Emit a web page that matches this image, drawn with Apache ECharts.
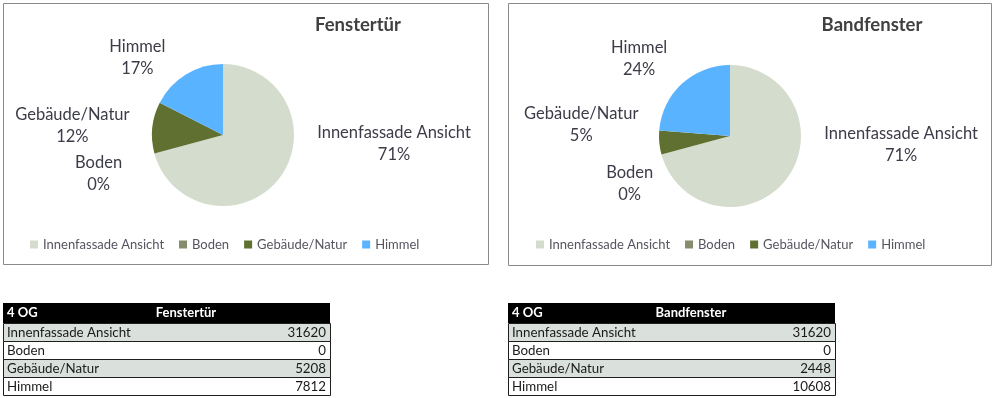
<!DOCTYPE html>
<html>
<head>
<meta charset="utf-8">
<script src="https://cdn.jsdelivr.net/npm/echarts@6/dist/echarts.min.js"></script>
<style>
  html, body { margin: 0; padding: 0; background: #fff; }
  #chart { width: 995px; height: 398px; }
</style>
</head>
<body>
<div id="chart"></div>
<script>
const CATEGORIES = ['Innenfassade Ansicht', 'Boden', 'Gebäude/Natur', 'Himmel'];
const FENSTERTUER_VALUES = [31620, 0, 5208, 7812];
const BANDFENSTER_VALUES = [31620, 0, 2448, 10608];
const TITLES = ['Fenstertür', 'Bandfenster'];
const TABLE_LABEL = '4 OG';

const COLORS = ['#d4dccd', '#858d6d', '#5f7030', '#5ab3fe'];
const FONT = 'Lato, "Open Sans", sans-serif';
const LABEL_COLOR = '#3c3c48';
const LEGEND_COLOR = '#555560';

// nudges so the labels sit where Excel's best-fit put them
const LABEL_SHIFT = [
  [[12, -47], [-3, 15], [7, 0], [0, 0]],
  [[12, -47], [21, 24], [9, -20], [9, -10]],
];

const TABLE_TOP = 303;
const HEADER_H = 20;
const ROW_H = 18;
const TABLE_W = 327;

const buildTable = (x, title, values) => {
  const els = [
    { type: 'rect', shape: { x, y: TABLE_TOP, width: TABLE_W, height: HEADER_H }, style: { fill: '#000' } },
    {
      type: 'text', x: x + 4, y: TABLE_TOP + HEADER_H / 2,
      style: { text: TABLE_LABEL, fill: '#fff', font: 'bold 13px ' + FONT, verticalAlign: 'middle' },
    },
    {
      type: 'text', x: x + 183, y: TABLE_TOP + HEADER_H / 2,
      style: { text: title, fill: '#fff', font: 'bold 13px ' + FONT, align: 'center', verticalAlign: 'middle' },
    },
  ];
  CATEGORIES.forEach((name, i) => {
    const y = TABLE_TOP + HEADER_H + i * ROW_H;
    els.push({
      type: 'rect', shape: { x: x + 0.5, y: y + 0.5, width: TABLE_W, height: ROW_H },
      style: { fill: i % 2 === 0 ? '#dae1dd' : '#fff', stroke: '#1e1e1e', lineWidth: 1 },
    });
    els.push({
      type: 'text', x: x + 4, y: y + ROW_H / 2 + 1,
      style: { text: name, fill: '#1a1a1a', font: '13.3px ' + FONT, verticalAlign: 'middle' },
    });
    els.push({
      type: 'text', x: x + TABLE_W - 4, y: y + ROW_H / 2 + 1,
      style: { text: String(values[i]), fill: '#1a1a1a', font: '13.3px ' + FONT, align: 'right', verticalAlign: 'middle' },
    });
  });
  return els;
};

const pieSeries = (values, center) => ({
  type: 'pie',
  center,
  radius: 71,
  startAngle: 90,
  clockwise: true,
  percentPrecision: 0,
  avoidLabelOverlap: false,
  color: COLORS,
  itemStyle: { borderWidth: 0 },
  label: {
    show: true,
    position: 'outside',
    formatter: '{a|{b}}\n{a|{d}%}',
    rich: { a: { align: 'center', fontSize: 16.5, lineHeight: 22, color: LABEL_COLOR, fontFamily: FONT } },
  },
  labelLine: { show: false, length: 20, length2: 5 },
  labelLayout: (params) => {
    const shift = LABEL_SHIFT[params.seriesIndex][params.dataIndex];
    return { dx: shift[0], dy: shift[1] };
  },
  emphasis: { disabled: true },
  data: CATEGORIES.map((name, i) => ({ name, value: values[i] })),
});

const legendAt = (left) => ({
  left,
  top: 233,
  icon: 'rect',
  itemWidth: 8,
  itemHeight: 8,
  itemGap: 15,
  selectedMode: false,
  textStyle: { color: LEGEND_COLOR, fontSize: 13, fontFamily: FONT },
  data: CATEGORIES,
});

const titleAt = (text, left) => ({
  text,
  left,
  top: 11,
  textAlign: 'center',
  textStyle: { fontSize: 18.5, fontWeight: 'bold', color: '#404040', fontFamily: FONT },
});

const chart = echarts.init(document.getElementById('chart'));
chart.setOption({
  backgroundColor: '#fff',
  animation: false,
  textStyle: { fontFamily: FONT },
  title: [titleAt(TITLES[0], 353), titleAt(TITLES[1], 867)],
  legend: [legendAt(25), legendAt(531)],
  series: [pieSeries(FENSTERTUER_VALUES, [223, 135]), pieSeries(BANDFENSTER_VALUES, [730, 136])],
  graphic: [
    { type: 'rect', shape: { x: 3.5, y: 3.5, width: 485, height: 261 }, style: { fill: 'none', stroke: '#8a8a8a', lineWidth: 1 } },
    { type: 'rect', shape: { x: 508.5, y: 3.5, width: 483, height: 262 }, style: { fill: 'none', stroke: '#8a8a8a', lineWidth: 1 } },
    ...buildTable(3, TITLES[0], FENSTERTUER_VALUES),
    ...buildTable(508, TITLES[1], BANDFENSTER_VALUES),
  ],
});
</script>
</body>
</html>
